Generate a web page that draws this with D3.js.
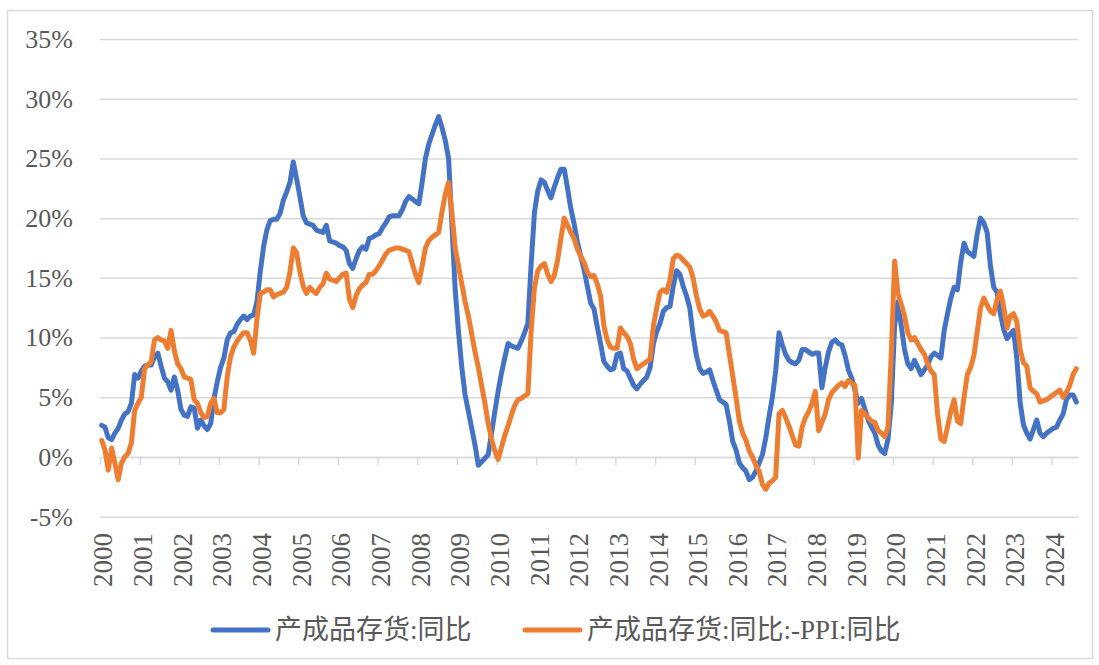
<!DOCTYPE html>
<html>
<head>
<meta charset="utf-8">
<script src="https://cdn.jsdelivr.net/npm/d3@7"></script>
<style>
  body { margin: 0; background: #fff; }
  svg text { font-family: "Times New Roman", Times, "Liberation Serif", "DejaVu Serif", "Noto Sans CJK SC", serif; fill: #595959; }
</style>
</head>
<body>
<div id="chart"></div>
<script>
// year labels on the category axis (data runs monthly from Jan 2000 to Aug 2024)
const years = d3.range(2000, 2025).map(String);

// 产成品存货:同比 (%), one row per year
const inventoryYoY = [
  2.65, 2.5, 1.6, 1.45, 2.0, 2.4, 3.1, 3.6, 3.8, 4.5, 6.9, 6.6,
  7.2, 7.6, 7.7, 7.7, 8.4, 8.7, 7.6, 6.6, 6.3, 5.6, 6.7, 5.6,
  4.0, 3.5, 3.4, 4.2, 4.1, 2.4, 3.1, 2.6, 2.3, 2.8, 4.9, 6.3,
  7.5, 8.3, 9.8, 10.4, 10.5, 11.1, 11.5, 11.8, 11.5, 11.8, 11.9, 13.0,
  15.5, 17.6, 19.0, 19.8, 19.9, 19.9, 20.4, 21.5, 22.2, 23.0, 24.7, 23.3,
  21.8, 20.2, 19.6, 19.5, 19.4, 19.0, 18.9, 18.8, 19.4, 18.1, 18.0, 17.9,
  17.7, 17.6, 17.3, 16.2, 15.8, 16.6, 17.3, 17.6, 17.4, 18.3, 18.4, 18.6,
  18.7, 19.2, 19.6, 20.1, 20.2, 20.2, 20.2, 20.7, 21.4, 21.8, 21.6, 21.4,
  21.2, 23.0, 25.0, 26.2, 27.0, 27.8, 28.5, 27.6, 26.5, 25.0, 19.5, 14.0,
  10.5, 7.5, 5.2, 3.8, 2.4, 1.0, -0.7, -0.4, -0.1, 0.2, 2.0, 3.8,
  5.5, 7.0, 8.3, 9.5, 9.3, 9.2, 9.1, 9.7, 10.4, 11.2, 16.2, 20.5,
  22.3, 23.2, 23.0, 22.3, 21.7, 22.6, 23.4, 24.1, 24.1, 22.5, 20.8, 19.5,
  18.0, 16.8, 15.7, 14.3, 12.9, 12.4, 10.9, 9.5, 8.0, 7.6, 7.3, 7.4,
  8.6, 8.7, 7.4, 7.2, 6.6, 6.0, 5.7, 6.1, 6.4, 6.7, 7.5, 9.5,
  10.5, 11.2, 12.2, 12.5, 12.6, 14.3, 15.6, 15.3, 14.3, 13.5, 12.5, 10.2,
  8.5, 7.4, 7.0, 7.1, 7.3, 6.4, 5.6, 4.8, 4.6, 4.4, 3.0, 1.3,
  0.6, -0.5, -0.9, -1.2, -1.9, -1.7, -1.2, -0.5, 0.2, 1.6, 3.4, 5.0,
  7.2, 10.4, 9.4, 8.6, 8.1, 7.9, 7.8, 8.1, 9.0, 9.0, 8.8, 8.6,
  8.7, 8.7, 5.8, 7.5, 8.8, 9.6, 9.8, 9.5, 9.4, 8.5, 7.3, 6.6,
  5.6, 4.5, 4.9, 4.0, 3.1, 2.5, 2.0, 1.0, 0.5, 0.3, 1.5, 4.5,
  11.0, 13.0, 11.0, 9.0, 7.8, 7.4, 8.1, 7.5, 6.9, 7.3, 7.7, 8.4,
  8.7, 8.5, 8.3, 10.6, 12.0, 13.3, 14.2, 14.0, 16.3, 17.9, 17.2, 17.0,
  16.8, 18.7, 20.0, 19.6, 18.8, 16.0, 14.2, 13.8, 12.0, 10.7, 9.9, 10.3,
  10.6, 8.2, 4.5, 2.7, 2.0, 1.5, 2.3, 3.1, 2.0, 1.7, 2.0, 2.2,
  2.4, 2.5, 3.1, 3.6, 4.8, 5.2, 5.2, 4.6
];

// 产成品存货:同比:-PPI:同比 (%), one row per year
const inventoryLessPPI = [
  1.4, 0.6, -1.1, 0.75, -0.5, -1.9, -0.5, 0.0, 0.3, 1.2, 3.9, 4.5,
  5.0, 7.4, 7.7, 8.0, 9.8, 10.0, 9.8, 9.7, 9.1, 10.6, 8.9, 7.8,
  7.4, 6.7, 6.6, 6.5, 4.8, 4.5, 3.7, 3.3, 3.4, 4.5, 4.9, 3.7,
  3.7, 4.0, 6.7, 8.4, 9.2, 9.7, 10.1, 10.4, 10.4, 9.8, 8.7, 11.5,
  13.7, 13.8, 14.0, 14.0, 13.4, 13.6, 13.7, 13.8, 14.2, 15.5, 17.5, 17.1,
  15.5, 14.3, 13.7, 14.2, 13.9, 13.7, 14.2, 14.5, 15.4, 14.9, 14.8, 14.7,
  15.0, 15.3, 15.4, 13.2, 12.5, 13.5, 14.1, 14.4, 14.6, 15.3, 15.3, 15.6,
  16.0, 16.5, 17.0, 17.3, 17.4, 17.5, 17.5, 17.4, 17.3, 17.2, 16.2, 15.3,
  14.6, 16.0, 17.5, 18.1, 18.4, 18.6, 18.8, 20.5, 22.0, 23.0, 20.5, 17.5,
  16.0, 14.5, 13.0, 11.8, 10.3, 8.8, 7.5, 6.0, 4.5, 2.8, 1.5, 0.5,
  -0.2, 0.8, 1.8, 2.6, 3.5, 4.3, 4.8, 4.9, 5.1, 5.3, 10.6, 14.2,
  15.6, 16.0, 16.2, 15.3, 14.7, 15.2, 16.5, 18.3, 20.0, 19.4, 18.8, 18.3,
  17.4, 16.8, 16.3, 15.5, 15.1, 15.2, 14.5, 13.5, 11.0, 9.8, 9.2, 9.1,
  9.1, 10.8, 10.4, 10.1, 9.5, 8.2, 7.4, 7.6, 7.8, 8.0, 8.2, 11.0,
  12.5, 13.8, 14.0, 13.8, 14.8, 16.6, 16.9, 16.8, 16.5, 16.2, 15.9, 15.0,
  13.5, 12.4, 11.8, 11.9, 12.2, 11.8, 11.3, 10.6, 10.5, 10.4, 8.6, 6.8,
  5.0, 3.0, 2.0, 1.4, 0.5, 0.0, -0.7, -1.2, -2.3, -2.7, -2.2, -2.0,
  -1.7, 3.6, 3.9, 3.3, 2.6, 1.8, 1.0, 0.9, 2.5, 3.3, 3.8, 4.5,
  5.5, 2.2, 2.9, 3.6, 4.8, 5.4, 5.7, 6.0, 6.2, 5.9, 6.4, 6.2,
  6.0, -0.1, 3.9, 3.6, 3.3, 3.0, 2.9, 2.2, 2.0, 1.7, 2.5, 8.7,
  16.4, 13.7, 12.8, 11.8, 10.4, 9.8, 10.0, 9.5, 9.0, 8.6, 7.8, 7.2,
  6.9, 3.6, 1.5, 1.3, 2.5, 3.8, 4.8, 3.0, 2.8, 5.0, 6.9, 7.5,
  8.5, 10.5, 12.5, 13.3, 12.7, 12.2, 12.0, 13.2, 13.9, 12.6, 10.8, 11.8,
  12.0, 11.3, 9.0, 7.9, 7.6, 5.8, 5.5, 5.3, 4.6, 4.7, 4.8, 5.0,
  5.2, 5.4, 5.6, 5.0, 5.4, 6.0, 6.9, 7.4
];

const yTicks = [-5, 0, 5, 10, 15, 20, 25, 30, 35];
const seriesNames = ["产成品存货:同比", "产成品存货:同比:-PPI:同比"];
const colors = ["#4472C4", "#ED7D31"];

const width = 1099;
const height = 665;
const plot = { left: 100, right: 1078, top: 39, bottom: 516.7 };
const nMonths = inventoryYoY.length;
const serif = '"Times New Roman", Times, "Liberation Serif", "DejaVu Serif", "Noto Sans CJK SC", serif';

const svg = d3.select("#chart")
  .append("svg")
  .attr("width", width)
  .attr("height", height);

// outer chart border
svg.append("rect")
  .attr("x", 7.5).attr("y", 10.5)
  .attr("width", 1085).attr("height", 648)
  .attr("fill", "#fff")
  .attr("stroke", "#d9d9d9")
  .attr("stroke-width", 1.5);

// scales
const x = d3.scaleLinear().domain([0, nMonths]).range([plot.left, plot.right]);
const y = d3.scaleLinear().domain([-5, 35]).range([plot.bottom, plot.top]);

// horizontal gridlines + y labels
svg.append("g")
  .attr("transform", `translate(${plot.left},0)`)
  .attr("font-family", serif)
  .call(d3.axisLeft(y)
    .tickValues(yTicks)
    .tickSize(-(plot.right - plot.left))
    .tickPadding(27)
    .tickFormat(d => d + "%"))
  .call(g => g.attr("font-family", serif))
  .call(g => g.select(".domain").remove())
  .call(g => g.selectAll(".tick line").attr("stroke", "#d9d9d9").attr("stroke-width", 1.5))
  .call(g => g.selectAll(".tick text")
    .attr("font-size", 26)
    .attr("fill", "#595959"));

// category axis on the 0% line, ticks every 12 months
svg.append("g")
  .attr("transform", `translate(0,${y(0)})`)
  .call(d3.axisBottom(x)
    .tickValues(d3.range(0, nMonths, 12))
    .tickSize(8)
    .tickSizeOuter(0)
    .tickFormat(""))
  .call(g => g.select(".domain").attr("stroke", "#d9d9d9").attr("stroke-width", 1.5))
  .call(g => g.selectAll(".tick line").attr("stroke", "#d9d9d9").attr("stroke-width", 1.5));

// year labels, rotated, placed below the plot area
svg.append("g")
  .attr("font-family", serif)
  .selectAll("text")
  .data(years)
  .join("text")
  .attr("transform", (d, i) => `translate(${x(i * 12) + 3},533) rotate(-90)`)
  .attr("text-anchor", "end")
  .attr("dy", "0.35em")
  .attr("font-size", 27)
  .text(d => d);

// lines
const line = d3.line()
  .x((d, i) => x(i + 0.5))
  .y(d => y(d));

[inventoryYoY, inventoryLessPPI].forEach((series, k) => {
  svg.append("path")
    .datum(series)
    .attr("fill", "none")
    .attr("stroke", colors[k])
    .attr("stroke-width", 5)
    .attr("stroke-linejoin", "round")
    .attr("stroke-linecap", "round")
    .attr("d", line);
});

// legend
const legendX = [213, 525];
const legend = svg.append("g").attr("font-family", serif);
seriesNames.forEach((name, k) => {
  legend.append("line")
    .attr("x1", legendX[k]).attr("x2", legendX[k] + 55)
    .attr("y1", 630).attr("y2", 630)
    .attr("stroke", colors[k])
    .attr("stroke-width", 5)
    .attr("stroke-linecap", "round");
  legend.append("text")
    .attr("x", legendX[k] + 62)
    .attr("y", 630)
    .attr("dy", "0.35em")
    .attr("font-size", 27)
    .text(name);
});
</script>
</body>
</html>
